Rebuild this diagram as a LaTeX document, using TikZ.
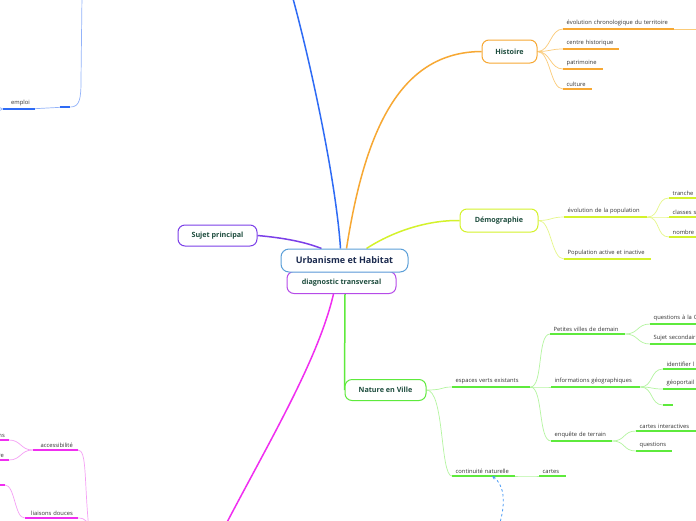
\documentclass[tikz,border=0pt]{standalone}
\usepackage{fontspec}
\setmainfont{Open Sans}
\usetikzlibrary{arrows.meta,calc}
\pgfdeclarelayer{bg}
\pgfsetlayers{bg,main}
\definecolor{ctrc}{HTML}{5B9FD8}
\definecolor{diagc}{HTML}{B64BE8}
\definecolor{sujc}{HTML}{7B3FE8}
\definecolor{histc}{HTML}{F7A833}
\definecolor{histp}{HTML}{FBCB78}
\definecolor{democ}{HTML}{D4F22B}
\definecolor{demop}{HTML}{E6F78A}
\definecolor{natc}{HTML}{5EEA3C}
\definecolor{natp}{HTML}{B4F5A0}
\definecolor{bluec}{HTML}{2E6BF5}
\definecolor{bluep}{HTML}{93B3FA}
\definecolor{magc}{HTML}{F02EF0}
\definecolor{magp}{HTML}{F5A0F5}
\definecolor{topictext}{HTML}{1E4D3E}
\definecolor{ctrtext}{HTML}{1C2B4F}
\definecolor{leaftext}{HTML}{333333}
\definecolor{dashc}{HTML}{4A9BF5}
\tikzset{
  x=1pt,y=-1pt,
  topic/.style={draw=#1, line width=1pt, rounded corners=7pt, fill=white,
    text=topictext, font=\fontsize{7.2}{8}\selectfont\bfseries, inner sep=0pt},
  leaf/.style={anchor=south west, inner xsep=0pt, inner ysep=2.5pt, text=leaftext,
    font=\fontsize{5.8}{6.8}\selectfont, align=left,
    append after command={(\tikzlastnode.south west) edge[draw=#1, line width=2pt] (\tikzlastnode.south east)}},
  lleaf/.style={anchor=south east, inner xsep=0pt, inner ysep=2.5pt, text=leaftext,
    font=\fontsize{5.8}{6.8}\selectfont, align=right,
    append after command={(\tikzlastnode.south west) edge[draw=#1, line width=2pt] (\tikzlastnode.south east)}},
  link/.style={draw=#1, line width=0.7pt},
  mainlink/.style={draw=#1, line width=1.5pt},
}
\newcommand\lf[6]{\node[leaf=#6, text width=#4pt] (#1) at (#2,#3) {\hspace*{3.5pt}#5};}
\newcommand\rf[6]{\node[lleaf=#6, text width=#4pt] (#1) at (#2,#3) {#5\hspace*{5pt}};}
\newcommand\cn[3]{\draw[link=#3] (#1) .. controls +(13,0) and +(-13,0) .. (#2);}
\begin{document}
\begin{tikzpicture}
\useasboundingbox (0,0) rectangle (696,520);
\begin{pgfonlayer}{bg}
\fill[white] (0,0) rectangle (696,520);
\end{pgfonlayer}

% topic nodes
\node[topic=diagc, minimum width=109pt, minimum height=22pt] (diag) at (341.5,282.5) {diagnostic transversal};
\node[topic=ctrc, minimum width=127pt, minimum height=23pt, rounded corners=8pt, text=ctrtext,
  font=\fontsize{9}{10}\selectfont\bfseries] (ctr) at (344.5,260.5) {Urbanisme et Habitat};
\node[topic=histc, minimum width=55pt, minimum height=23pt] (hist) at (509.5,51.5) {Histoire};
\node[topic=democ, minimum width=78pt, minimum height=23pt] (demo) at (499,220.5) {Démographie};
\node[topic=natc, minimum width=81pt, minimum height=21pt] (nat) at (385.5,390) {Nature en Ville};
\node[topic=sujc, minimum width=79pt, minimum height=21pt] (suj) at (217.5,235.5) {Sujet principal};

% Histoire leaves
\lf{h1}{563}{29}{111}{évolution chronologique du territoire}{histc}
\lf{h2}{563}{49}{56}{centre historique}{histc}
\lf{h3}{563}{69}{40}{patrimoine}{histc}
\lf{h4}{563}{89}{29}{culture}{histc}
\coordinate (h1out) at (700,29);

% Demographie leaves
\lf{d1}{564}{217}{83}{évolution de la population}{democ}
\lf{d2}{564}{259}{87}{Population active et inactive}{democ}
\lf{d11}{669}{198}{40}{tranche}{democ}
\lf{d12}{669}{217}{40}{classes s}{democ}
\lf{d13}{669}{237}{40}{nombre}{democ}

% Nature leaves
\lf{n1}{452}{387}{78}{espaces verts existants}{natc}
\lf{n2}{452}{476}{63}{continuité naturelle}{natc}
\lf{n21}{539}{476}{27}{cartes}{natc}
\lf{n11}{550}{334}{75}{Petites villes de demain}{natc}
\lf{n12}{551}{387}{89}{informations géographiques}{natc}
\lf{n13}{551}{441}{61}{enquête de terrain}{natc}
\lf{n111}{650}{324}{60}{questions à la C}{natc}
\lf{n112}{650}{344}{60}{Sujet secondair}{natc}
\lf{n121}{663}{369}{40}{identifier l}{natc}
\lf{n122}{663}{389}{40}{géoportail}{natc}
\lf{n123}{663}{405}{10}{}{natc}
\lf{n131}{636}{431}{64}{cartes interactives}{natc}
\lf{n132}{636}{451}{36}{questions}{natc}

% left blue leaves
\rf{emp}{35}{109}{32}{emploi}{bluec}
\node[leaf=bluec, text width=10pt] (e0) at (60,107) {};
\coordinate (bup) at (82,-5);
\coordinate (el1) at (-6,100);
\coordinate (el2) at (-6,118);

% left magenta leaves
\rf{acc}{78}{450}{45}{accessibilité}{magc}
\node[lleaf=magc, text width=20pt] (ns) at (9,440) {ns\hspace*{4pt}};
\node[lleaf=magc, text width=20pt] (re) at (9,460) {re\hspace*{5pt}};
\node[lleaf=magc, text width=10pt] (k1) at (5,485) {};
\rf{lia}{78}{518}{53}{liaisons douces}{magc}
\coordinate (mdown) at (89,530);
\coordinate (bout) at (292,-5);
\coordinate (mout) at (224,528);
\coordinate (dstart) at (499,526);

\begin{pgfonlayer}{bg}
% main branches
\draw[mainlink=bluec] ([xshift=-4pt]ctr.north) .. controls (336,180) and (310,60) .. (bout);
\draw[mainlink=histc] ([xshift=2pt]ctr.north) .. controls (365,130) and (400,52) .. (hist.west);
\draw[mainlink=democ] ([xshift=22pt]ctr.north) .. controls (395,230) and (430,220) .. (demo.west);
\draw[mainlink=natc] ([xshift=3.5pt]diag.south) -- (nat.west);
\draw[mainlink=magc] ([xshift=-8pt]diag.south) .. controls (318,360) and (270,440) .. (mout);
\draw[mainlink=sujc] (suj.east) .. controls (285,238) and (305,242) .. ([xshift=-23pt]ctr.north);

% Histoire links
\cn{hist.east}{h1.south west}{histp}
\cn{hist.east}{h2.south west}{histp}
\cn{hist.east}{h3.south west}{histp}
\cn{hist.east}{h4.south west}{histp}
\draw[link=histp] (h1.south east) -- (h1out);

% Demographie links
\cn{demo.east}{d1.south west}{demop}
\cn{demo.east}{d2.south west}{demop}
\cn{d1.south east}{d11.south west}{demop}
\cn{d1.south east}{d12.south west}{demop}
\cn{d1.south east}{d13.south west}{demop}

% Nature links
\draw[link=natp] (nat.east) .. controls +(18,0) and +(-12,0) .. (n1.south west);
\draw[link=natp] (nat.east) .. controls +(18,0) and +(-12,0) .. (n2.south west);
\cn{n2.south east}{n21.south west}{natp}
\cn{n1.south east}{n11.south west}{natp}
\cn{n1.south east}{n12.south west}{natp}
\cn{n1.south east}{n13.south west}{natp}
\cn{n11.south east}{n111.south west}{natp}
\cn{n11.south east}{n112.south west}{natp}
\cn{n12.south east}{n121.south west}{natp}
\cn{n12.south east}{n122.south west}{natp}
\cn{n12.south east}{n123.south west}{natp}
\cn{n13.south east}{n131.south west}{natp}
\cn{n13.south east}{n132.south west}{natp}

% left blue links
\cn{e0.south west}{emp.south east}{bluep}
\draw[link=bluep] (e0.south east) .. controls (80,107) and (81,98) .. (81,80) -- (bup);
\draw[link=bluep] (emp.south west) .. controls +(-5,0) and +(4,0) .. (el1);
\draw[link=bluep] (emp.south west) .. controls +(-5,0) and +(4,0) .. (el2);

% left magenta links
\draw[link=magp] (acc.south east) .. controls (87,450) and (84,480) .. (mdown);
\draw[link=magp] (lia.south east) .. controls (86,518) and (88,522) .. (mdown);
\draw[link=magp] (acc.south west) .. controls +(-12,0) and +(12,0) .. (ns.south east);
\draw[link=magp] (acc.south west) .. controls +(-12,0) and +(12,0) .. (re.south east);
\draw[link=magp] (k1.south east) .. controls +(10,0) and +(-10,0) .. (lia.south west);
\end{pgfonlayer}

% dashed arrow
\draw[draw=dashc, line width=0.8pt, dash pattern=on 2.5pt off 2.5pt, -{Stealth[length=4pt,width=3.5pt]}]
  (dstart) .. controls (507,500) and (503,484) .. ($(n2.south west)+(40,0)$);
\end{tikzpicture}
\end{document}
